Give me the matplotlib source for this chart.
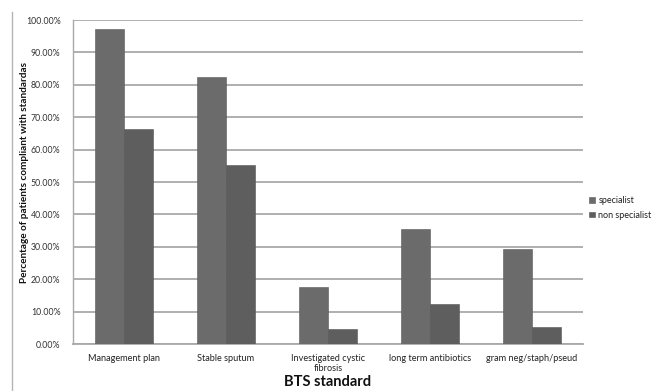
import matplotlib
matplotlib.use("Agg")
import matplotlib.pyplot as plt
from matplotlib.lines import Line2D
import numpy as np

categories = ["Management plan", "Stable sputum", "Investigated cystic\nfibrosis",
              "long term antibiotics", "gram neg/staph/pseud"]
specialist = [97.2, 82.3, 17.7, 35.5, 29.3]
non_specialist = [66.4, 55.3, 4.7, 12.5, 5.2]
series_names = ["specialist", "non specialist"]
yticks = [0, 10, 20, 30, 40, 50, 60, 70, 80, 90, 100]

plt.rcParams['font.family'] = ['Lato', 'DejaVu Sans']

fig = plt.figure(figsize=(6.53, 3.91), dpi=100)
ax = fig.add_axes([73/653, 47/391, (583-73)/653, (344-20)/391])

x = np.arange(len(categories))
w = 0.284
c1, c2 = "#6b6b6b", "#5e5e5e"
ax.bar(x - w/2, specialist, width=w, color=c1, edgecolor="#595959", linewidth=0.4, zorder=3, label=series_names[0])
ax.bar(x + w/2, non_specialist, width=w, color=c2, edgecolor="#555555", linewidth=0.4, zorder=3, label=series_names[1])

ax.set_xlim(-0.5, len(categories) - 0.5)
ax.set_ylim(0, 100)
ax.set_yticks(yticks)
ax.set_yticklabels([f"{v:.2f}%" for v in yticks], fontsize=6.3, color="#333333")
ax.yaxis.grid(True, color="#a9a9a9", linewidth=1.3, zorder=0)
ax.set_axisbelow(True)
ax.set_xticks(x)
ax.set_xticklabels(categories, fontsize=6.6, color="#222222")
ax.tick_params(axis="x", length=0, pad=7)
ax.tick_params(axis="y", length=0, pad=9)
for s in ["top", "right"]:
    ax.spines[s].set_visible(False)
ax.spines["left"].set_color("#a9a9a9")
ax.spines["bottom"].set_color("#a9a9a9")
ax.spines["left"].set_linewidth(1.0)
ax.spines["bottom"].set_linewidth(1.3)

ax.set_ylabel("Percentage of patients compliant with standardas", fontsize=7.2, fontweight="bold", color="#111111")
ax.yaxis.set_label_coords(-0.087, 0.53)
ax.set_xlabel("BTS standard", fontsize=10.5, fontweight="bold", color="#111111", labelpad=1)

leg = ax.legend(loc="center left", bbox_to_anchor=(1.0, 0.42), frameon=False, fontsize=6.5,
                handlelength=0.6, handleheight=0.6, handletextpad=0.4, labelspacing=0.6, borderaxespad=0.3)
for t in leg.get_texts():
    t.set_color("#222222")

fig.add_artist(Line2D([12/653, 12/653], [0, 1 - 12/391], transform=fig.transFigure, color="#b5b5b5", linewidth=1.0))

fig.savefig("out.png", dpi=100)
